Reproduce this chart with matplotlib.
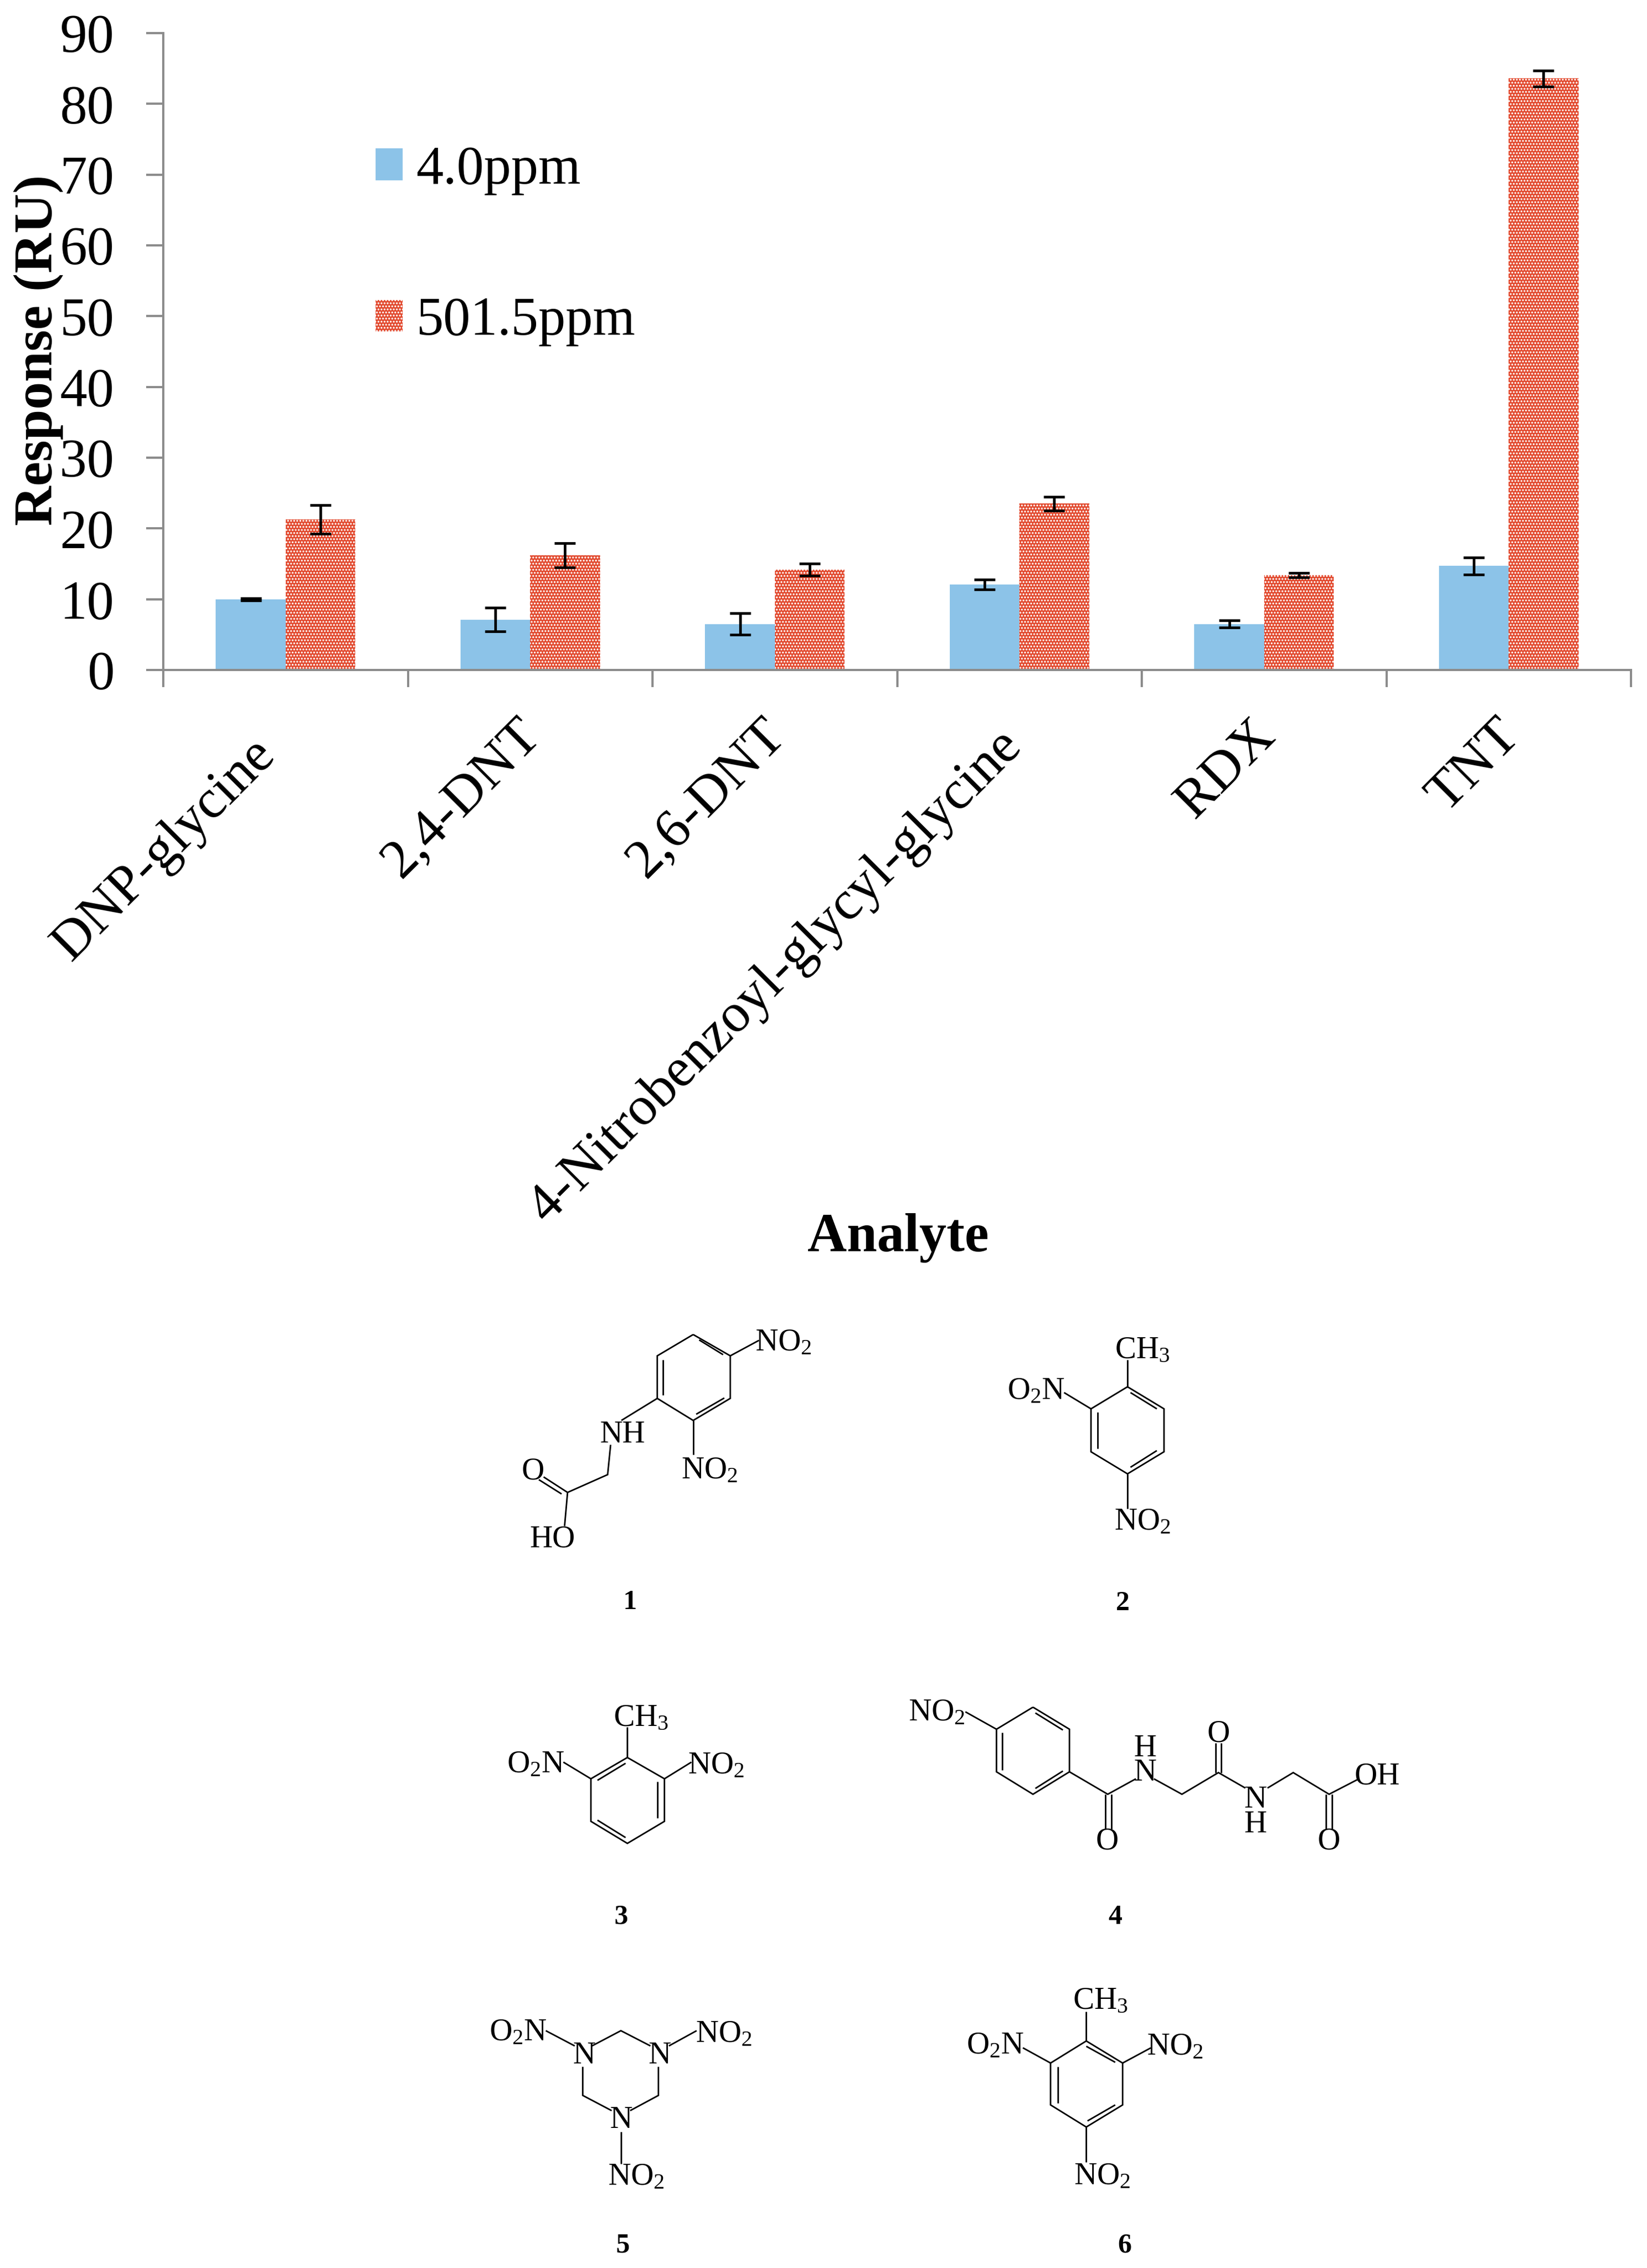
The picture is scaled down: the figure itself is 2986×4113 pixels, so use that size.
import numpy as np
import matplotlib
matplotlib.use('Agg')
import matplotlib.pyplot as plt
from matplotlib.patches import Patch
from matplotlib.transforms import Affine2D

plt.rcParams['font.family'] = ['Liberation Serif', 'DejaVu Serif']
plt.rcParams['mathtext.fontset'] = 'custom'
plt.rcParams['mathtext.rm'] = 'Liberation Serif'
plt.rcParams['mathtext.default'] = 'rm'
plt.rcParams['hatch.linewidth'] = 1.6

analytes = ['DNP-glycine', '2,4-DNT', '2,6-DNT', '4-Nitrobenzoyl-glycyl-glycine', 'RDX', 'TNT']
low_ppm = [10.0, 7.1, 6.5, 12.1, 6.5, 14.7]
high_ppm = [21.3, 16.2, 14.2, 23.5, 13.4, 83.6]
low_err = [0.15, 1.68, 1.55, 0.70, 0.52, 1.20]
high_err = [2.03, 1.71, 0.87, 0.96, 0.33, 1.13]

BLUE = '#8CC3E8'
RED = '#E2492E'
GREY = '#8C8C8C'
W, H = 2986, 4113

# axes frame in image pixels
AX_L, AX_R, AX_T, AX_B = 296, 2957, 60, 1215

# nudges for the slanted labels, pixels right / up
label_dx = [-65, -26, -26, -42, -26, -26]
label_dy = [-14, 22, 22, 2, 21, 21]

def crop_a(x, y):
    return 850 + x / 0.922, 2350 + y / 1.425

def crop_b(x, y):
    return 850 + x / 0.896, 3030 + y / 1.448

NO2 = 'NO$_2$'
O2N = 'O$_2$N'
CH3 = 'CH$_3$'

bonds_a = [
    # 1
    [(375, 100), (437, 155), (437, 265), (375, 322), (315, 265), (315, 155), (375, 100)],
    [(385, 114), (425, 152)], [(325, 165), (325, 257)], [(380, 306), (427, 264)],
    [(437, 155), (485, 115)], [(375, 322), (375, 410)], [(315, 265), (255, 322)],
    [(237, 385), (232, 462), (165, 508), (160, 595)],
    [(165, 508), (125, 468)], [(155, 512), (117, 475)],
    # 2
    [(1101, 235), (1162, 292), (1162, 403), (1101, 460), (1040, 403), (1040, 292), (1101, 235)],
    [(1106, 250), (1150, 292)], [(1150, 400), (1106, 443)], [(1051, 300), (1051, 395)],
    [(1101, 235), (1101, 165)], [(1040, 292), (995, 250)], [(1101, 460), (1101, 550)],
    # 3
    [(265, 1193), (327, 1248), (327, 1358), (265, 1415), (204, 1358), (204, 1248), (265, 1193)],
    [(262, 1208), (215, 1252)], [(315, 1255), (315, 1350)], [(215, 1355), (262, 1400)],
    [(265, 1193), (265, 1115)], [(204, 1248), (158, 1205)], [(327, 1248), (372, 1205)],
    # 4
    [(943, 1063), (1004, 1120), (1004, 1230), (943, 1288), (882, 1230), (882, 1120), (943, 1063)],
    [(947, 1078), (993, 1122)], [(892, 1128), (892, 1225)], [(947, 1273), (993, 1228)],
    [(882, 1120), (830, 1075)], [(1004, 1230), (1068, 1288), (1115, 1248)],
    [(1064, 1288), (1064, 1378)], [(1074, 1288), (1074, 1378)],
    [(1145, 1248), (1192, 1288), (1253, 1232), (1298, 1272)],
    [(1248, 1232), (1248, 1155)], [(1258, 1232), (1258, 1155)],
    [(1335, 1272), (1378, 1232), (1438, 1288), (1488, 1248)],
    [(1433, 1288), (1433, 1378)], [(1443, 1288), (1443, 1378)],
]

labels_a = [
    (NO2, 526, 122), (NO2, 402, 452), ('NH', 257, 359), ('O', 107, 454), ('HO', 140, 629),
    (CH3, 1126, 142), (O2N, 948, 247), (NO2, 1126, 585),
    (CH3, 288, 1092), (O2N, 112, 1212), (NO2, 413, 1214),
    (NO2, 782, 1077), ('O', 1067, 1410), ('N', 1130, 1232), ('H', 1130, 1170),
    ('O', 1253, 1132), ('N', 1315, 1302), ('H', 1315, 1367), ('OH', 1518, 1242), ('O', 1438, 1410),
]

bonds_b = [
    # 5
    [(200, 985), (247, 945), (295, 985)], [(185, 1040), (185, 1115), (232, 1155)],
    [(262, 1155), (308, 1115), (308, 1040)], [(125, 945), (172, 985)], [(325, 985), (370, 945)],
    [(247, 1210), (247, 1295)],
    # 6
    [(1003, 972), (1062, 1030), (1062, 1140), (1003, 1198), (945, 1140), (945, 1030), (1003, 972)],
    [(1003, 986), (1050, 1028)], [(957, 1040), (957, 1135)], [(1005, 1182), (1050, 1140)],
    [(1003, 972), (1003, 895)], [(945, 1030), (900, 990)], [(1062, 1030), (1108, 990)],
    [(1003, 1198), (1003, 1290)],
]

labels_b = [
    (O2N, 80, 950), ('N', 187, 1010), ('N', 310, 1010), (NO2, 414, 955), ('N', 247, 1180), (NO2, 272, 1330),
    (CH3, 1026, 868), (O2N, 855, 985), (NO2, 1147, 988), (NO2, 1029, 1328),
]

numbers_b = [('1', 262, -180), ('2', 1062, -176),
             ('3', 248, 647), ('4', 1050, 647), ('5', 250, 1510), ('6', 1065, 1510)]

fig = plt.figure(figsize=(W / 100, H / 100), dpi=100, facecolor='white')
ax = fig.add_axes([AX_L / W, 1 - AX_B / H, (AX_R - AX_L) / W, (AX_B - AX_T) / H])

x = np.arange(len(analytes)) + 0.5
bar_w = 0.285
err_style = dict(ecolor='black', elinewidth=3.4, capsize=13.5, capthick=3.4)
ax.bar(x - bar_w / 2, low_ppm, bar_w, color=BLUE, yerr=low_err, error_kw=err_style)
ax.bar(x + bar_w / 2, high_ppm, bar_w, color=RED, edgecolor='white', hatch='...', linewidth=0,
       yerr=high_err, error_kw=err_style)

ax.set_xlim(0, 6)
ax.set_ylim(0, 90)
ax.set_yticks(range(0, 100, 10))
ax.set_xticks(range(0, 7))
ax.set_xticklabels([])
ax.set_xticks(x, labels=analytes, minor=True)
ax.tick_params(axis='y', length=22, width=2.9, color=GREY, labelsize=71, pad=42)
ax.tick_params(axis='x', which='major', length=22, width=2.9, color=GREY)
ax.tick_params(axis='x', which='minor', length=0, labelsize=72, pad=68)
for lab, dx, dy in zip(ax.get_xticklabels(minor=True), label_dx, label_dy):
    lab.set_rotation(45)
    lab.set_ha('right')
    lab.set_va('top')
    lab.set_rotation_mode('anchor')
    lab.set_transform(lab.get_transform() + Affine2D().translate(dx, dy))
for side in ['top', 'right']:
    ax.spines[side].set_visible(False)
for side in ['left', 'bottom']:
    ax.spines[side].set_color(GREY)
    ax.spines[side].set_linewidth(2.9)

ax.set_ylabel('Response (RU)', fontsize=72, fontweight='bold')
ax.yaxis.set_label_coords((115 - AX_L) / (AX_R - AX_L), (AX_B - 635) / (AX_B - AX_T))
ax.set_xlabel('Analyte', fontsize=71, fontweight='bold', va='center')
ax.xaxis.set_label_coords((1628 - AX_L) / (AX_R - AX_L), (AX_B - 2245) / (AX_B - AX_T))

handles = [Patch(facecolor=BLUE, label='4.0ppm'),
           Patch(facecolor=RED, edgecolor='white', hatch='...', linewidth=0, label='501.5ppm')]
ax.legend(handles=handles, frameon=False, fontsize=71, loc='upper left',
          bbox_to_anchor=((681 - AX_L) / (AX_R - AX_L), (AX_B - 264) / (AX_B - AX_T)),
          borderaxespad=0, borderpad=0, handlelength=0.5, handleheight=0.52,
          handletextpad=0.24, labelspacing=1.87)

# chemical structures below the chart, image pixel coordinates
over = fig.add_axes([0, 0, 1, 1])
over.set_xlim(0, W)
over.set_ylim(H, 0)
over.axis('off')

for bonds, labels, conv in [(bonds_a, labels_a, crop_a), (bonds_b, labels_b, crop_b)]:
    for path in bonds:
        pts = [conv(px, py) for px, py in path]
        over.plot([p[0] for p in pts], [p[1] for p in pts], color='black', lw=2.0,
                  solid_joinstyle='miter', solid_capstyle='butt')
    for text, px, py in labels:
        tx, ty = conv(px, py)
        over.text(tx, ty, text, fontsize=41, ha='center', va='center', color='black')

for text, px, py in numbers_b:
    tx, ty = crop_b(px, py)
    over.text(tx, ty, text, fontsize=36, fontweight='bold', ha='center', va='center')

fig.savefig('out.png', dpi=100)
plt.close()
